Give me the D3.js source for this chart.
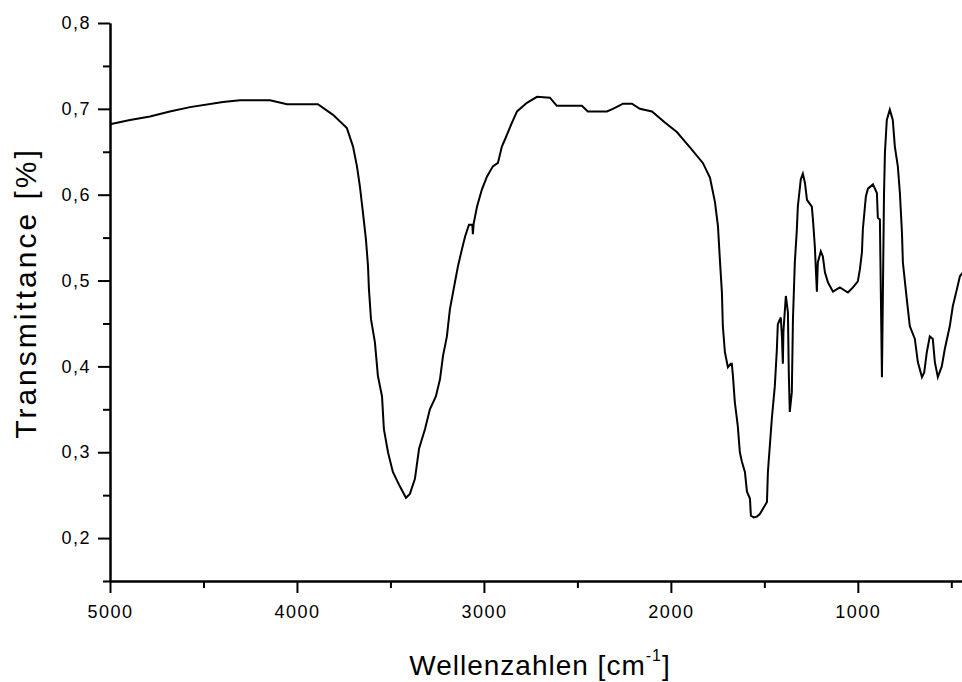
<!DOCTYPE html>
<html>
<head>
<meta charset="utf-8">
<script src="https://cdn.jsdelivr.net/npm/d3@7"></script>
<style>
body { margin: 0; background: #fff; }
svg { display: block; font-family: "Liberation Sans", Arial, sans-serif; }
</style>
</head>
<body>
<svg id="chart"></svg>
<script>
// IR spectrum, wavenumber (cm-1) vs transmittance
var wavenumbers = [5000,4893,4786,4680,4572,4396,4305,4144,4053,3888,3807,3733,3700,3679,3663,3647,3631,3620,3615,3604,3583,3567,3545,3535,3513,3487,3449,3417,3396,3369,3347,3315,3289,3257,3235,3219,3198,3182,3155,3139,3118,3101,3080,3062,3059,3055,3037,3011,2984,2952,2925,2904,2888,2871,2850,2823,2770,2716,2647,2610,2476,2444,2342,2310,2256,2208,2166,2101,2032,1968,1898,1829,1791,1775,1764,1748,1738,1727,1722,1711,1695,1680,1674,1668,1658,1642,1631,1620,1604,1593,1577,1572,1556,1540,1524,1486,1481,1460,1444,1433,1428,1412,1406,1401,1398,1396,1385,1374,1369,1364,1353,1347,1337,1326,1321,1305,1294,1283,1272,1246,1240,1230,1222,1219,1214,1198,1187,1176,1160,1133,1096,1053,1026,1000,989,978,973,957,946,919,898,893,882,871,860,855,845,829,813,802,786,775,764,759,738,722,695,679,657,645,631,615,599,588,572,551,535,508,492,470,454,440];
var transmittance = [0.682,0.687,0.691,0.697,0.702,0.708,0.710,0.710,0.7055,0.7055,0.693,0.6776,0.656,0.633,0.609,0.579,0.548,0.517,0.490,0.455,0.428,0.389,0.365,0.327,0.300,0.277,0.260,0.247,0.2515,0.269,0.304,0.327,0.350,0.365,0.385,0.412,0.435,0.4665,0.498,0.5165,0.536,0.551,0.565,0.565,0.554,0.566,0.586,0.606,0.621,0.633,0.637,0.656,0.664,0.673,0.684,0.697,0.707,0.714,0.713,0.7035,0.7035,0.697,0.697,0.700,0.706,0.706,0.700,0.697,0.684,0.673,0.655,0.637,0.620,0.603,0.591,0.563,0.525,0.486,0.447,0.4165,0.399,0.403,0.403,0.389,0.3585,0.3305,0.300,0.289,0.277,0.254,0.246,0.226,0.224,0.225,0.228,0.242,0.277,0.339,0.377,0.420,0.449,0.457,0.435,0.403,0.440,0.447,0.482,0.463,0.390,0.347,0.370,0.455,0.521,0.560,0.586,0.618,0.6245,0.614,0.594,0.586,0.571,0.540,0.501,0.487,0.521,0.534,0.528,0.5095,0.498,0.487,0.492,0.486,0.492,0.499,0.513,0.533,0.560,0.598,0.607,0.612,0.602,0.573,0.571,0.3875,0.600,0.649,0.687,0.699,0.687,0.656,0.633,0.602,0.556,0.521,0.478,0.447,0.432,0.405,0.3875,0.393,0.4165,0.435,0.432,0.405,0.3875,0.400,0.420,0.447,0.470,0.490,0.505,0.509];

var xMajor = [5000,4000,3000,2000,1000];
var xMinor = [4500,3500,2500,1500,500];
var yMajor = [0.2,0.3,0.4,0.5,0.6,0.7,0.8];
var yMinor = [0.15,0.25,0.35,0.45,0.55,0.65,0.75];

var width = 962, height = 682;

var svg = d3.select("#chart")
  .attr("width", width)
  .attr("height", height);

var x = d3.scaleLinear().domain([5000, 400]).range([110, 970]);
var y = d3.scaleLinear().domain([0.15, 0.8]).range([581, 23]);

var fmt = function(d) { return d3.format(".1f")(d).replace(".", ","); };

// minor ticks first
svg.append("g")
  .attr("transform", "translate(0,581)")
  .call(d3.axisBottom(x).tickValues(xMinor).tickSize(7).tickSizeOuter(0).tickFormat(""));
svg.append("g")
  .attr("transform", "translate(110,0)")
  .call(d3.axisLeft(y).tickValues(yMinor).tickSize(7).tickSizeOuter(0).tickFormat(""));

var xAxis = svg.append("g")
  .attr("transform", "translate(0,581)")
  .call(d3.axisBottom(x).tickValues(xMajor).tickSize(12).tickSizeOuter(0).tickPadding(12).tickFormat(d3.format("d")));

var yAxis = svg.append("g")
  .attr("transform", "translate(110,0)")
  .call(d3.axisLeft(y).tickValues(yMajor).tickSize(12).tickSizeOuter(0).tickPadding(7).tickFormat(fmt));

svg.selectAll(".domain, .tick line")
  .attr("stroke", "#000")
  .attr("stroke-width", 2);

svg.selectAll(".tick text")
  .attr("fill", "#000")
  .style("font-size", "18px")
  .style("letter-spacing", "1.5px");

// the spectrum
var pts = wavenumbers.map(function(w, i) { return [w, transmittance[i]]; });
var line = d3.line()
  .x(function(d) { return x(d[0]); })
  .y(function(d) { return y(d[1]); });

svg.append("path")
  .datum(pts)
  .attr("fill", "none")
  .attr("stroke", "#000")
  .attr("stroke-width", 2)
  .attr("stroke-linejoin", "miter")
  .attr("d", line);

// axis titles
var xt = svg.append("text")
  .attr("x", 540)
  .attr("y", 675)
  .attr("text-anchor", "middle")
  .style("font-size", "28px")
  .style("letter-spacing", "1px")
  .attr("fill", "#000");
xt.append("tspan").text("Wellenzahlen [cm");
xt.append("tspan").attr("dy", -14).style("font-size", "16px").text("-1");
xt.append("tspan").attr("dy", 14).text("]");

svg.append("text")
  .attr("transform", "translate(36,293) rotate(-90)")
  .attr("text-anchor", "middle")
  .style("font-size", "30px")
  .style("letter-spacing", "3px")
  .attr("fill", "#000")
  .text("Transmittance [%]");
</script>
</body>
</html>
